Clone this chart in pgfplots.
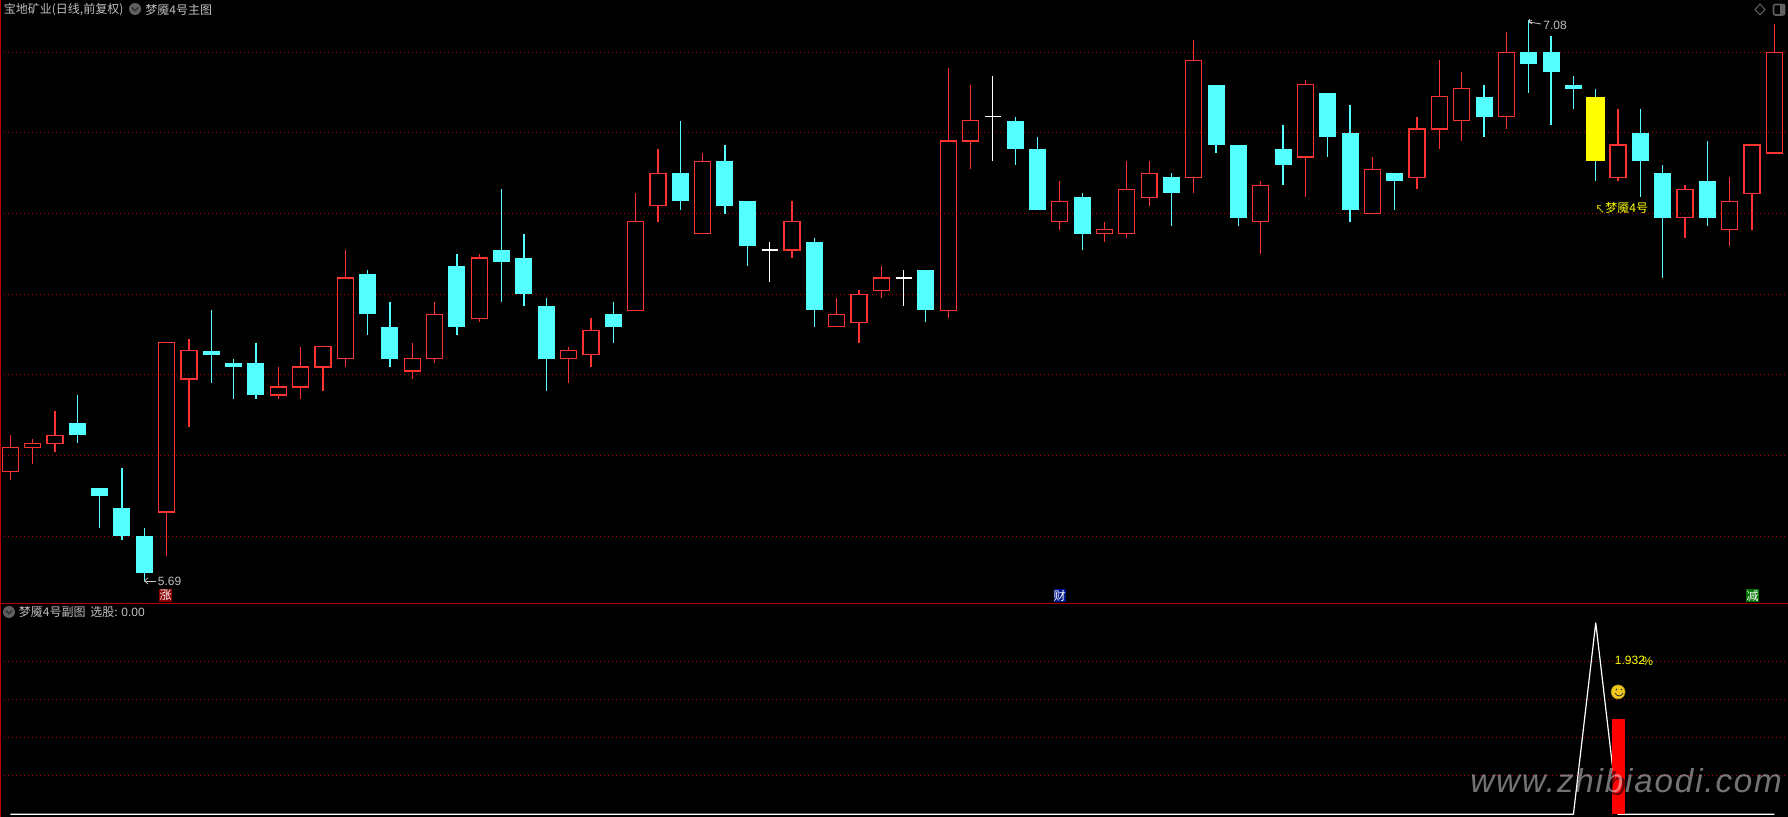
\documentclass[border=0pt]{standalone}
\usepackage{fontspec}
\usepackage{pgfplots}
\pgfplotsset{compat=1.18}
\setmainfont{Liberation Sans}
\newfontfamily\cjk{Noto Sans CJK SC}
\definecolor{kred}{RGB}{255,50,50}
\definecolor{kcyan}{RGB}{84,255,255}
\definecolor{kyel}{RGB}{255,255,0}
\definecolor{gridred}{RGB}{185,0,0}
\definecolor{sepred}{RGB}{185,0,0}
\definecolor{txt}{RGB}{192,192,192}
\definecolor{icon}{RGB}{96,96,96}
\definecolor{gold}{RGB}{240,200,30}
\newcommand\wick[4]{% colour, i, from, to
  \addplot[#1,line width=.65pt,forget plot] coordinates {(#2,#3) (#2,#4)};}
% i, high, body top, body bottom, low
\newcommand\R[5]{\wick{kred}{#1}{#2}{#3}\wick{kred}{#1}{#4}{#5}%
  \pgfmathsetmacro\xa{#1-0.358}\pgfmathsetmacro\xb{#1+0.358}%
  \addplot[kred,line width=.65pt,forget plot] coordinates {(\xa,#3) (\xb,#3) (\xb,#4) (\xa,#4)} --cycle;}
\newcommand\C[5]{\wick{kcyan}{#1}{#2}{#3}\wick{kcyan}{#1}{#4}{#5}%
  \pgfmathsetmacro\xa{#1-0.381}\pgfmathsetmacro\xb{#1+0.381}%
  \addplot[draw=none,fill=kcyan,forget plot] coordinates {(\xa,#3) (\xb,#3) (\xb,#4) (\xa,#4)} --cycle;}
\newcommand\Y[5]{\wick{kcyan}{#1}{#2}{#3}\wick{kcyan}{#1}{#4}{#5}%
  \pgfmathsetmacro\xa{#1-0.425}\pgfmathsetmacro\xb{#1+0.425}%
  \addplot[draw=none,fill=kyel,forget plot] coordinates {(\xa,#3) (\xb,#3) (\xb,#4) (\xa,#4)} --cycle;}
% i, high, price, low
\newcommand\W[4]{\wick{white}{#1}{#2}{#4}%
  \pgfmathsetmacro\xa{#1-0.358}\pgfmathsetmacro\xb{#1+0.358}%
  \addplot[white,line width=.65pt,forget plot] coordinates {(\xa,#3) (\xb,#3)};}
\pgfplotsset{panel/.style={
  scale only axis,width=894pt,anchor=south west,
  xmin=-0.461,xmax=79.61,
  axis line style={draw=none},
  xtick=\empty,yticklabels={},
  major tick length=0pt,
  ymajorgrids,
  grid style={gridred,line width=.5pt,dash pattern=on .5pt off 1.5pt},
}}
\newcommand\chev[2]{% x, y from the top, in pixels
  \fill[icon] (#1,817-#2) circle (6);
  \draw[black!80,line width=.8pt] (#1-3.2,817-#2+1.4) -- (#1,817-#2-1.6) -- (#1+3.2,817-#2+1.4);}
\newcommand\tsize{\fontsize{6}{6}\selectfont}
\newcommand\wmark{\fontsize{16.6}{17}\selectfont\addfontfeatures{LetterSpace=5.5}\itshape www.zhibiaodi.com}
\begin{document}
\begin{tikzpicture}[x=0.5pt,y=0.5pt]
\useasboundingbox (0,0) rectangle (1788,817);
\fill[black] (0,0) rectangle (1788,817);
\begin{axis}[panel,at={(0pt,106.75pt)},height=301.75pt,
  ymin=5.6333,ymax=7.1296,ytick={5.8,6.0,6.2,6.4,6.6,6.8,7.0}]
\R{0}{6.05}{6.02}{5.96}{5.94}
\R{1}{6.04}{6.03}{6.02}{5.98}
\R{2}{6.11}{6.05}{6.03}{6.01}
\C{3}{6.15}{6.08}{6.05}{6.03}
\C{4}{5.92}{5.92}{5.90}{5.82}
\C{5}{5.97}{5.87}{5.80}{5.79}
\C{6}{5.82}{5.80}{5.71}{5.69}
\R{7}{6.28}{6.28}{5.86}{5.75}
\R{8}{6.29}{6.26}{6.19}{6.07}
\C{9}{6.36}{6.26}{6.25}{6.18}
\C{10}{6.24}{6.23}{6.22}{6.14}
\C{11}{6.28}{6.23}{6.15}{6.14}
\R{12}{6.22}{6.17}{6.15}{6.14}
\R{13}{6.27}{6.22}{6.17}{6.14}
\R{14}{6.27}{6.27}{6.22}{6.16}
\R{15}{6.51}{6.44}{6.24}{6.22}
\C{16}{6.46}{6.45}{6.35}{6.30}
\C{17}{6.38}{6.32}{6.24}{6.22}
\R{18}{6.28}{6.24}{6.21}{6.19}
\R{19}{6.38}{6.35}{6.24}{6.23}
\C{20}{6.50}{6.47}{6.32}{6.30}
\R{21}{6.50}{6.49}{6.34}{6.33}
\C{22}{6.66}{6.51}{6.48}{6.38}
\C{23}{6.55}{6.49}{6.40}{6.37}
\C{24}{6.39}{6.37}{6.24}{6.16}
\R{25}{6.27}{6.26}{6.24}{6.18}
\R{26}{6.34}{6.31}{6.25}{6.22}
\C{27}{6.38}{6.35}{6.32}{6.28}
\R{28}{6.65}{6.58}{6.36}{6.36}
\R{29}{6.76}{6.70}{6.62}{6.58}
\C{30}{6.83}{6.70}{6.63}{6.61}
\R{31}{6.75}{6.73}{6.55}{6.55}
\C{32}{6.77}{6.73}{6.62}{6.60}
\C{33}{6.63}{6.63}{6.52}{6.47}
\W{34}{6.53}{6.51}{6.43}
\R{35}{6.63}{6.58}{6.51}{6.49}
\C{36}{6.54}{6.53}{6.36}{6.32}
\R{37}{6.39}{6.35}{6.32}{6.32}
\R{38}{6.41}{6.40}{6.33}{6.28}
\R{39}{6.47}{6.44}{6.41}{6.39}
\W{40}{6.46}{6.44}{6.37}
\C{41}{6.46}{6.46}{6.36}{6.33}
\R{42}{6.96}{6.78}{6.36}{6.34}
\R{43}{6.92}{6.83}{6.78}{6.71}
\W{44}{6.94}{6.84}{6.73}
\C{45}{6.84}{6.83}{6.76}{6.72}
\C{46}{6.79}{6.76}{6.61}{6.61}
\R{47}{6.68}{6.63}{6.58}{6.56}
\C{48}{6.65}{6.64}{6.55}{6.51}
\R{49}{6.58}{6.56}{6.55}{6.53}
\R{50}{6.73}{6.66}{6.55}{6.54}
\R{51}{6.73}{6.70}{6.64}{6.62}
\C{52}{6.70}{6.69}{6.65}{6.57}
\R{53}{7.03}{6.98}{6.69}{6.65}
\C{54}{6.92}{6.92}{6.77}{6.75}
\C{55}{6.77}{6.77}{6.59}{6.57}
\R{56}{6.68}{6.67}{6.58}{6.50}
\C{57}{6.82}{6.76}{6.72}{6.67}
\R{58}{6.93}{6.92}{6.74}{6.64}
\C{59}{6.90}{6.90}{6.79}{6.74}
\C{60}{6.87}{6.80}{6.61}{6.58}
\R{61}{6.74}{6.71}{6.60}{6.60}
\C{62}{6.70}{6.70}{6.68}{6.61}
\R{63}{6.84}{6.81}{6.69}{6.66}
\R{64}{6.98}{6.89}{6.81}{6.76}
\R{65}{6.95}{6.91}{6.83}{6.78}
\C{66}{6.92}{6.89}{6.84}{6.79}
\R{67}{7.05}{7.00}{6.84}{6.81}
\C{68}{7.08}{7.00}{6.97}{6.90}
\C{69}{7.04}{7.00}{6.95}{6.82}
\C{70}{6.94}{6.92}{6.91}{6.86}
\Y{71}{6.91}{6.89}{6.73}{6.68}
\R{72}{6.86}{6.77}{6.69}{6.68}
\C{73}{6.86}{6.80}{6.73}{6.64}
\C{74}{6.72}{6.70}{6.59}{6.44}
\R{75}{6.67}{6.66}{6.59}{6.54}
\C{76}{6.78}{6.68}{6.59}{6.57}
\R{77}{6.69}{6.63}{6.56}{6.52}
\R{78}{6.77}{6.77}{6.65}{6.56}
\R{79}{7.07}{7.00}{6.75}{6.75}
\end{axis}
\begin{axis}[panel,at={(0pt,0pt)},height=106.75pt,
  ymin=-1.41,ymax=110.08,ytick={20,40,60,80}]
\addplot[white,line width=.6pt,line join=bevel,forget plot] coordinates {(0,0) (1,0) (2,0) (3,0) (4,0) (5,0) (6,0) (7,0) (8,0) (9,0) (10,0) (11,0) (12,0) (13,0) (14,0) (15,0) (16,0) (17,0) (18,0) (19,0) (20,0) (21,0) (22,0) (23,0) (24,0) (25,0) (26,0) (27,0) (28,0) (29,0) (30,0) (31,0) (32,0) (33,0) (34,0) (35,0) (36,0) (37,0) (38,0) (39,0) (40,0) (41,0) (42,0) (43,0) (44,0) (45,0) (46,0) (47,0) (48,0) (49,0) (50,0) (51,0) (52,0) (53,0) (54,0) (55,0) (56,0) (57,0) (58,0) (59,0) (60,0) (61,0) (62,0) (63,0) (64,0) (65,0) (66,0) (67,0) (68,0) (69,0) (70,0) (71,100) (72,0) (73,0) (74,0) (75,0) (76,0) (77,0) (78,0) (79,0)};
\addplot[ybar,bar width=6.5pt,bar shift=0pt,fill=red,draw=none,forget plot] coordinates {(72,50)};
\addplot[only marks,mark=*,mark size=3.5pt,mark options={fill=gold,draw=gold!70!black,line width=.3pt},forget plot] coordinates {(72,63.9)};
\end{axis}
% frame lines
\fill[sepred] (0,0) rectangle (1.3,817);
\fill[sepred] (0,213) rectangle (1788,214.2);
% smiley face
\fill[black!80] (1616.5,817-689.5) circle (.9);
\fill[black!80] (1621.5,817-689.5) circle (.9);
\draw[black!80,line width=.4pt] (1615,817-693) .. controls (1617,817-697) and (1621,817-697) .. (1623,817-693);
% top titles
\node[anchor=west,inner sep=0,text=txt,font=\cjk\tsize] at (3.5,817-9.5) {宝地矿业(日线,前复权)};
\chev{135}{9}
\node[anchor=west,inner sep=0,text=txt,font=\cjk\tsize] at (145,817-9.5) {梦魇4号主图};
% sub titles
\chev{9}{612}
\node[anchor=west,inner sep=0,text=txt,font=\cjk\tsize] at (18.5,817-612) {梦魇4号副图};
\node[anchor=west,inner sep=0,text=txt,font=\cjk\tsize] at (90,817-612) {选股:};
\node[anchor=west,inner sep=0,text=txt,font=\tsize] at (121,817-612) {0.00};
% top right icons
\draw[icon,line width=.5pt] (1760,817-4) -- (1765,817-9.5) -- (1760,817-15) -- (1755,817-9.5) -- cycle;
\draw[icon,line width=.8pt,rounded corners=1] (1773.5,817-4.5) rectangle (1784.5,817-15);
\fill[icon] (1779.5,817-4.5) rectangle (1784.5,817-15);
% high and low labels
\draw[txt,line width=.4pt] (1529,817-19) -- (1529,817-23);
\draw[txt,line width=.4pt] (1532,817-20) -- (1529,817-22) -- (1532,817-24);
\draw[txt,line width=.4pt] (1529,817-22) -- (1541,817-24);
\node[anchor=west,inner sep=0,text=txt,font=\tsize] at (1543,817-25.5) {7.08};
\draw[txt,line width=.4pt] (144.5,817-581) -- (156,817-581);
\draw[txt,line width=.4pt] (148,817-578) -- (144.5,817-581) -- (148,817-584);
\node[anchor=west,inner sep=0,text=txt,font=\tsize] at (157.5,817-581) {5.69};
% tags
\fill[red!55!black] (159,817-589.5) rectangle (172,817-602);
\node[inner sep=0,text=white,font=\cjk\tsize] at (165.5,817-595.5) {涨};
\fill[blue!50!black!90!cyan] (1053.5,817-589.5) rectangle (1066,817-602);
\node[inner sep=0,text=white,font=\cjk\tsize] at (1059.7,817-595.5) {财};
\fill[green!45!black] (1746,817-589.5) rectangle (1759,817-602);
\node[inner sep=0,text=white,font=\cjk\tsize] at (1752.5,817-595.5) {减};
% signal label
\draw[kyel!70!black,line width=.5pt] (1603,817-212.5) -- (1597,817-206);
\draw[kyel!70!black,line width=.5pt] (1597,817-209.5) -- (1597,817-206) -- (1600.5,817-206);
\node[anchor=west,inner sep=0,text=kyel,font=\cjk\tsize] at (1605,817-208) {梦魇4号};
\node[anchor=west,inner sep=0,text=kyel,font=\tsize] at (1614.5,817-660) {1.932};
\node[anchor=west,inner sep=0,text=kyel,font=\tsize] at (1642,817-661) {\%};
% watermark
\node[anchor=west,inner sep=0,text=black,opacity=.55] at (1473,817-784) {\wmark};
\node[anchor=west,inner sep=0,text=white,opacity=.45] at (1470,817-781) {\wmark};
\end{tikzpicture}
\end{document}
